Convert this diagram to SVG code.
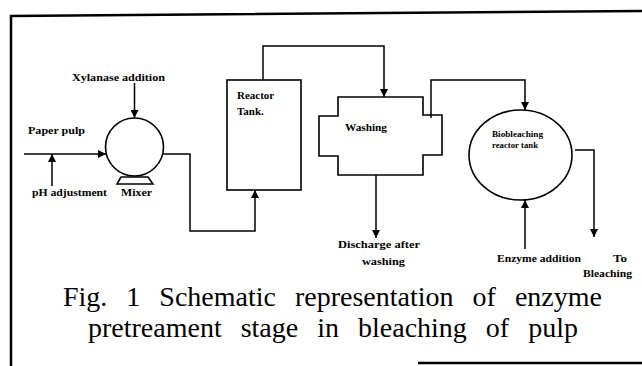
<svg xmlns="http://www.w3.org/2000/svg" width="642" height="366" viewBox="0 0 642 366">
<defs>
<style>
.ln{fill:none;stroke:#000;stroke-width:1.5}
.sh{fill:#fff;stroke:#000;stroke-width:1.6}
.lb{font-family:"Liberation Serif",serif;font-weight:bold;font-size:11px;fill:#000}
.sm{font-family:"Liberation Serif",serif;font-weight:bold;font-size:8.5px;fill:#000}
.cap{font-family:"Liberation Serif",serif;font-size:28px;fill:#000;word-spacing:12px}
</style>
<marker id="ah" viewBox="0 0 10 10" refX="10" refY="5" markerWidth="8" markerHeight="8" markerUnits="userSpaceOnUse" orient="auto">
<path d="M0,0 L10,5 L0,10 z" fill="#000"/>
</marker>
</defs>
<rect width="642" height="366" fill="#fff"/>
<g id="frame">
<path d="M11,366 L11,16 L642,11" fill="none" stroke="#000" stroke-width="2.5"/>
<path d="M418,363 L642,363" fill="none" stroke="#000" stroke-width="2.5"/>
</g>
<g id="mixer">
<circle class="sh" cx="134.5" cy="147" r="29"/>
<path class="sh" d="M121,177 L148,177 L153,184 L117,184 z"/>
<text class="lb" x="121" y="196" textLength="31" lengthAdjust="spacingAndGlyphs">Mixer</text>
</g>
<g id="reactor">
<rect class="sh" x="227" y="80" width="74" height="110"/>
<text class="lb" x="237" y="99">Reactor</text>
<text class="lb" x="237" y="115">Tank.</text>
</g>
<g id="washing">
<path class="sh" d="M338,97 L423,97 L423,115 L442,115 L442,155 L423,155 L423,175 L338,175 L338,156 L319,156 L319,116 L338,116 z"/>
<text class="lb" x="345" y="131" textLength="42" lengthAdjust="spacingAndGlyphs">Washing</text>
</g>
<g id="biobleaching">
<ellipse class="sh" cx="520.5" cy="155" rx="51.5" ry="45"/>
<text class="sm" x="492" y="137" textLength="51" lengthAdjust="spacingAndGlyphs">Biobleaching</text>
<text class="sm" x="492" y="148" textLength="46" lengthAdjust="spacingAndGlyphs">reactor tank</text>
</g>
<g id="labels">
<text class="lb" x="72" y="81" textLength="93" lengthAdjust="spacingAndGlyphs">Xylanase addition</text>
<text class="lb" x="28" y="134" textLength="57" lengthAdjust="spacingAndGlyphs">Paper pulp</text>
<text class="lb" x="32" y="196" textLength="75" lengthAdjust="spacingAndGlyphs">pH adjustment</text>
<text class="lb" x="338" y="248" textLength="82" lengthAdjust="spacingAndGlyphs">Discharge after</text>
<text class="lb" x="362" y="265" textLength="43" lengthAdjust="spacingAndGlyphs">washing</text>
<text class="lb" x="497" y="262" textLength="84" lengthAdjust="spacingAndGlyphs">Enzyme addition</text>
<text class="lb" x="613" y="262" textLength="14" lengthAdjust="spacingAndGlyphs">To</text>
<text class="lb" x="583" y="277" textLength="49" lengthAdjust="spacingAndGlyphs">Bleaching</text>
</g>
<g id="connectors">
<path class="ln" d="M134.5,83 L134.5,118" marker-end="url(#ah)"/>
<path class="ln" d="M24,154 L106,154" marker-end="url(#ah)"/>
<path class="ln" d="M52,186 L52,154" marker-end="url(#ah)"/>
<path class="ln" d="M163,154 L190,154 L190,231 L255,231 L255,190" marker-end="url(#ah)"/>
<path class="ln" d="M263,80 L263,46 L384,46 L384,97" marker-end="url(#ah)"/>
<path class="ln" d="M376,175 L376,238" marker-end="url(#ah)"/>
<path class="ln" d="M431,118 L431,80 L525,80 L525,110" marker-end="url(#ah)"/>
<path class="ln" d="M525,249 L525,200" marker-end="url(#ah)"/>
<path class="ln" d="M575,150 L594,150 L594,237" marker-end="url(#ah)"/>
</g>
<g id="caption">
<text class="cap" x="63" y="306">Fig. 1 Schematic representation of enzyme</text>
<text class="cap" x="88" y="337">pretreament stage in bleaching of pulp</text>
</g>
</svg>
